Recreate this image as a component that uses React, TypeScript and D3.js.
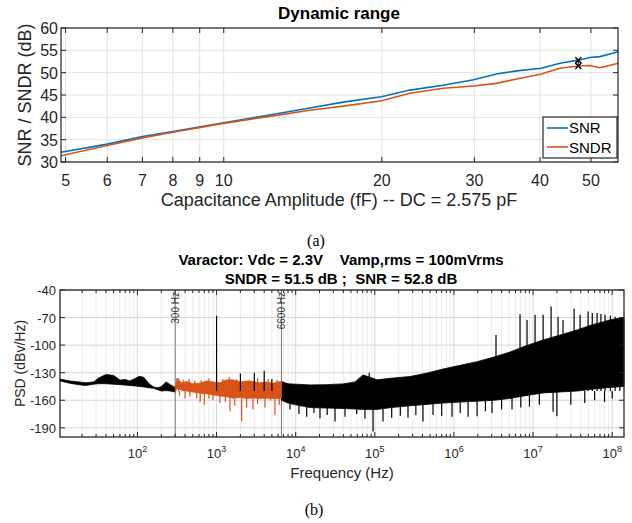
import React from 'react'
import * as d3 from 'd3'

// (a) dynamic range vs capacitance amplitude
const ampF = [4.9, 6, 7, 8, 10, 12.06, 14.58, 16.88, 19.97, 22.61, 26.17, 29.89, 33.06, 36.11, 40.22, 43.65, 47.31, 49.8, 52.0, 56.4]
const snrDb = [32.2, 34.0, 35.7, 36.8, 38.8, 40.4, 42.1, 43.4, 44.6, 46.1, 47.2, 48.4, 49.7, 50.4, 51.0, 52.1, 52.8, 53.4, 53.6, 54.7]
const sndrDb = [31.4, 33.7, 35.4, 36.65, 38.65, 40.1, 41.6, 42.5, 43.7, 45.4, 46.5, 47.0, 47.6, 48.6, 49.7, 51.0, 51.5, 51.6, 51.1, 52.1]
const markF = 47.31
const markSnr = 52.8
const markSndr = 51.5
const topXTicks = [5, 6, 7, 8, 9, 10, 20, 30, 40, 50]
const topYTicks = [30, 35, 40, 45, 50, 55, 60]

// (b) PSD, envelopes
const lowF = [10.5, 14, 18, 22, 28, 32, 40, 50, 60, 70, 80, 95, 105, 120, 140, 160, 180, 200, 230, 260, 300]
const lowHi = [-137, -139, -140, -141, -140, -136, -132, -133, -138, -137.5, -139, -136, -134, -135, -142, -145.5, -146.5, -145, -140, -143, -146]
const lowLo = [-139, -141.5, -143, -144, -142.5, -142, -142, -142.5, -143, -143.5, -144, -144.5, -145, -145.5, -146.5, -147, -148.5, -150, -149.5, -150, -151]

const midF = [300, 316, 360, 422, 500, 617, 750, 900, 1100, 1300, 1611, 2000, 2400, 2884, 3500, 4200, 5160, 6000, 6600]
const midHi = [-146, -136, -141, -139.7, -142, -141.5, -139, -140, -141, -138, -137.8, -140, -139, -139.7, -141, -140, -141.5, -140, -139.7]
const midLo = [-151, -147, -149, -150, -151, -152.3, -153, -154, -155.5, -156, -157.7, -157, -158, -157.5, -158, -157.7, -158, -158, -158]
const midUpF = [330, 380, 450, 530, 640, 800, 1200, 1450, 1800, 2600, 3300, 4500, 5800]
const midUpV = [-136, -138, -137, -139, -138, -136, -137, -135, -137, -138, -136, -137, -138]

const hfF = [6600, 8000, 10000, 15170, 25000, 39600, 56200, 71000, 86900, 106700, 160000, 278600, 450000, 728000, 1.2e6, 1.96e6, 3.2e6, 5.11e6, 8e6, 1.34e7, 2.2e7, 3.6e7, 5.5e7, 9.4e7, 1.41e8]
const hfHi = [-139.7, -142, -142.5, -143.3, -143, -142.2, -140, -132.4, -135, -137.8, -136, -134.2, -130.5, -126, -122, -118, -113, -107.5, -101, -94.3, -89, -83.5, -78, -72.6, -69.7]
const hfLo = [-160, -163, -165, -168, -168.5, -169, -169.5, -170, -170, -170, -168, -166, -164.5, -163, -162, -161, -160, -158, -155, -152, -151, -150, -148, -146, -145]

const upF = [1000, 2000, 3000, 4000, 5000, 85000, 3.4e6, 6.84e6, 8.39e6, 1.06e7, 1.34e7, 1.69e7, 2.07e7, 2.39e7, 3.3e7, 3.93e7, 4.96e7, 5.6e7, 6.44e7, 7.2e7, 8.13e7, 9.5e7, 1.09e8, 1.25e8]
const upV = [-68, -131, -130, -128, -137, -130, -89, -66.5, -72.6, -67, -67, -58, -69, -72.6, -60, -67, -63.5, -65, -65, -66, -67, -68, -69, -70]

const dnF = [340, 400, 460, 560, 620, 700, 800, 900, 1100, 1290, 1476, 1700, 2075, 2400, 2884, 3300, 4090, 4800, 5470, 6200,
  8470, 11000, 13770, 17000, 20280, 25000, 31400, 42000, 59000, 75000, 94900, 126900, 163400, 210000, 262600, 330000, 406000,
  544000, 700000, 946000, 1.2e6, 1.51e6, 1.96e6, 2.5e6, 3.03e6, 4e6, 5.42e6, 7e6, 9e6, 1.2e7, 1.79e7, 2.0e7, 3.0e7, 4.5e7, 6.0e7, 8e7, 1.0e8]
const dnV = [-155, -158, -156, -158, -162, -165, -158, -160, -163, -161.5, -172, -166, -183, -168, -170, -164, -168, -160, -176, -165,
  -170, -175, -178, -174, -179.5, -176, -183, -178, -175, -180, -194, -183, -179, -177, -179, -176, -183,
  -176, -177, -178, -174, -178, -177.5, -172, -174, -170, -170, -168, -167, -165, -172.6, -177.5, -165, -163, -160, -162, -158]
const spikeFoot = -150

const bandLo = 300
const bandHi = 6600
const botYTicks = [-190, -160, -130, -100, -70, -40]
const botXExp = [2, 3, 4, 5, 6, 7, 8]

const ink = '#262626'
const gridCol = '#e2e2e2'
const font = '"Liberation Sans", Arial, sans-serif'
const blue = '#0072BD'
const orange = '#D95319'

const App = () => {
  const xA = d3.scaleLog().domain([4.9, 56.3]).range([61, 618])
  const yA = d3.scaleLinear().domain([30, 60]).range([162, 28])
  const xB = d3.scaleLog().domain([10.5, 1.41e8]).range([60, 624])
  const yB = d3.scaleLinear().domain([-200, -40]).range([437, 290])

  const lineA = d3.line<[number, number]>().x(d => xA(d[0])).y(d => yA(d[1]))
  const snrPts = ampF.map((f, i) => [f, snrDb[i]] as [number, number])
  const sndrPts = ampF.map((f, i) => [f, sndrDb[i]] as [number, number])

  const areaB = d3.area<[number, number, number]>()
    .x(d => xB(d[0])).y0(d => yB(d[1])).y1(d => yB(d[2]))
  const band = (f: number[], lo: number[], hi: number[]) =>
    areaB(f.map((v, i) => [v, lo[i], hi[i]] as [number, number, number])) || ''

  const [ax0, ax1] = xA.range()
  const [ay1, ay0] = yA.range()
  const [bx0, bx1] = xB.range()
  const [by1, by0] = yB.range()

  const minorB: number[] = []
  for (let e = 1; e <= 8; e++) {
    for (let k = 2; k <= 9; k++) {
      const v = k * Math.pow(10, e)
      if (v > 10.5 && v < 1.41e8) minorB.push(v)
    }
  }

  const cross = (cx: number, cy: number, s: number) =>
    `M${cx - s},${cy - s}L${cx + s},${cy + s}M${cx - s},${cy + s}L${cx + s},${cy - s}`

  return (
    <div style={{ position: 'absolute', left: 0, top: 0 }}>
      <svg width={632} height={523} style={{ display: 'block', background: '#fff' }} fontFamily={font}>
        {/* ---------- (a) ---------- */}
        <text x={339} y={19} textAnchor="middle" fontSize={17} fontWeight="bold" fill="#000">Dynamic range</text>
        <rect x={ax0} y={ay0} width={ax1 - ax0} height={ay1 - ay0} fill="#fff" />
        {topXTicks.map(t => (
          <line key={'gx' + t} x1={xA(t)} x2={xA(t)} y1={ay0} y2={ay1} stroke={gridCol} strokeWidth={1} />
        ))}
        {topYTicks.map(t => (
          <line key={'gy' + t} x1={ax0} x2={ax1} y1={yA(t)} y2={yA(t)} stroke={gridCol} strokeWidth={1} />
        ))}
        <path d={lineA(snrPts) || ''} fill="none" stroke={blue} strokeWidth={1.6} />
        <path d={lineA(sndrPts) || ''} fill="none" stroke={orange} strokeWidth={1.6} />
        <path d={cross(xA(markF), yA(markSnr), 3)} stroke="#000" strokeWidth={1.4} />
        <path d={cross(xA(markF), yA(markSndr), 3)} stroke="#000" strokeWidth={1.4} />
        <line x1={xA(markF)} x2={xA(markF)} y1={yA(markSnr)} y2={yA(markSndr)} stroke="#000" strokeWidth={1} />
        {topXTicks.map(t => (
          <g key={'tx' + t}>
            <line x1={xA(t)} x2={xA(t)} y1={ay1} y2={ay1 - 5} stroke={ink} />
            <line x1={xA(t)} x2={xA(t)} y1={ay0} y2={ay0 + 5} stroke={ink} />
            <text x={xA(t)} y={ay1 + 24} textAnchor="middle" fontSize={16} fill={ink}>{t}</text>
          </g>
        ))}
        {topYTicks.map(t => (
          <g key={'ty' + t}>
            <line x1={ax0} x2={ax0 + 5} y1={yA(t)} y2={yA(t)} stroke={ink} />
            <line x1={ax1} x2={ax1 - 5} y1={yA(t)} y2={yA(t)} stroke={ink} />
            <text x={ax0 - 3} y={yA(t) + 6} textAnchor="end" fontSize={16} fill={ink}>{t}</text>
          </g>
        ))}
        <rect x={ax0} y={ay0} width={ax1 - ax0} height={ay1 - ay0} fill="none" stroke={ink} strokeWidth={1.2} />
        <text x={339} y={206} textAnchor="middle" fontSize={18} fill={ink}>Capacitance Amplitude (fF) -- DC = 2.575 pF</text>
        <text transform={`translate(31,${(ay0 + ay1) / 2}) rotate(-90)`} textAnchor="middle" fontSize={18} fill={ink}>SNR / SNDR (dB)</text>
        <g>
          <rect x={543} y={117} width={74} height={41} fill="#fff" stroke={ink} strokeWidth={1.2} />
          <line x1={547} x2={568} y1={128} y2={128} stroke={blue} strokeWidth={1.6} />
          <text x={569} y={133} fontSize={15} fill="#000">SNR</text>
          <line x1={547} x2={568} y1={147} y2={147} stroke={orange} strokeWidth={1.6} />
          <text x={569} y={152.5} fontSize={15} fill="#000">SNDR</text>
        </g>
        <text x={316} y={246} textAnchor="middle" fontSize={16} fontFamily='"Liberation Serif", serif' fill="#000">(a)</text>

        {/* ---------- (b) ---------- */}
        <text x={341} y={265} textAnchor="middle" fontSize={15} fontWeight="bold" fill="#000" style={{ whiteSpace: 'pre' }}>
          {'Varactor: Vdc = 2.3V    Vamp,rms = 100mVrms'}
        </text>
        <text x={341} y={284} textAnchor="middle" fontSize={15} fontWeight="bold" fill="#000" style={{ whiteSpace: 'pre' }}>
          {'SNDR = 51.5 dB ;  SNR = 52.8 dB'}
        </text>
        <rect x={bx0} y={by0} width={bx1 - bx0} height={by1 - by0} fill="#fff" />
        {minorB.map(v => (
          <line key={'mg' + v} x1={xB(v)} x2={xB(v)} y1={by0} y2={by1} stroke="#ececec" strokeWidth={1} />
        ))}
        {botXExp.map(e => (
          <line key={'bgx' + e} x1={xB(Math.pow(10, e))} x2={xB(Math.pow(10, e))} y1={by0} y2={by1} stroke="#d6d6d6" strokeWidth={1} />
        ))}
        {botYTicks.map(t => (
          <line key={'bgy' + t} x1={bx0} x2={bx1} y1={yB(t)} y2={yB(t)} stroke="#d6d6d6" strokeWidth={1} />
        ))}
        {[bandLo, bandHi].map(f => (
          <line key={'xl' + f} x1={xB(f)} x2={xB(f)} y1={by0} y2={by1} stroke="#777" strokeWidth={1} />
        ))}
        <path d={band(lowF, lowLo, lowHi)} fill="#000" stroke="#000" strokeWidth={0.8} />
        <path d={band(hfF, hfLo, hfHi)} fill="#000" stroke="#000" strokeWidth={0.8} />
        <path d={band(midF, midLo, midHi)} fill={orange} stroke={orange} strokeWidth={0.8} />
        {midUpF.map((f, i) => (
          <line key={'mu' + i} x1={xB(f)} x2={xB(f)} y1={yB(midUpV[i])} y2={yB(spikeFoot)} stroke={orange} strokeWidth={1.2} />
        ))}
        {dnF.map((f, i) => (
          <line key={'dn' + i} x1={xB(f)} x2={xB(f)} y1={yB(dnV[i])} y2={yB(spikeFoot)}
            stroke={f >= bandLo && f <= bandHi ? orange : '#000'} strokeWidth={1.2} />
        ))}
        {upF.map((f, i) => (
          <line key={'up' + i} x1={xB(f)} x2={xB(f)} y1={yB(upV[i])} y2={yB(spikeFoot)} stroke="#000" strokeWidth={1.2} />
        ))}
        {[bandLo, bandHi].map(f => (
          <text key={'xt' + f} transform={`translate(${xB(f) + 3.5},${by0 + 2}) rotate(-90)`} textAnchor="end"
            fontSize={10} fill="#333">{f} Hz</text>
        ))}
        {minorB.map(v => (
          <g key={'mt' + v}>
            <line x1={xB(v)} x2={xB(v)} y1={by1} y2={by1 - 3} stroke={ink} />
            <line x1={xB(v)} x2={xB(v)} y1={by0} y2={by0 + 3} stroke={ink} />
          </g>
        ))}
        {botXExp.map(e => (
          <g key={'bt' + e}>
            <line x1={xB(Math.pow(10, e))} x2={xB(Math.pow(10, e))} y1={by1} y2={by1 - 5} stroke={ink} />
            <line x1={xB(Math.pow(10, e))} x2={xB(Math.pow(10, e))} y1={by0} y2={by0 + 5} stroke={ink} />
            <text x={xB(Math.pow(10, e))} y={by1 + 21} textAnchor="middle" fontSize={13} fill={ink}>
              10<tspan dy={-6} fontSize={9}>{e}</tspan>
            </text>
          </g>
        ))}
        {botYTicks.map(t => (
          <g key={'bty' + t}>
            <line x1={bx0} x2={bx0 + 5} y1={yB(t)} y2={yB(t)} stroke={ink} />
            <line x1={bx1} x2={bx1 - 5} y1={yB(t)} y2={yB(t)} stroke={ink} />
            <text x={bx0 - 4} y={yB(t) + 5} textAnchor="end" fontSize={13} fill={ink}>{t}</text>
          </g>
        ))}
        <rect x={bx0} y={by0} width={bx1 - bx0} height={by1 - by0} fill="none" stroke={ink} strokeWidth={1.3} />
        <text x={(bx0 + bx1) / 2} y={478} textAnchor="middle" fontSize={15} fill={ink}>Frequency (Hz)</text>
        <text transform={`translate(25,${(by0 + by1) / 2}) rotate(-90)`} textAnchor="middle" fontSize={14} fill={ink}>PSD (dBv/Hz)</text>
        <text x={314} y={515} textAnchor="middle" fontSize={16} fontFamily='"Liberation Serif", serif' fill="#000">(b)</text>
      </svg>
    </div>
  )
}

export default App
